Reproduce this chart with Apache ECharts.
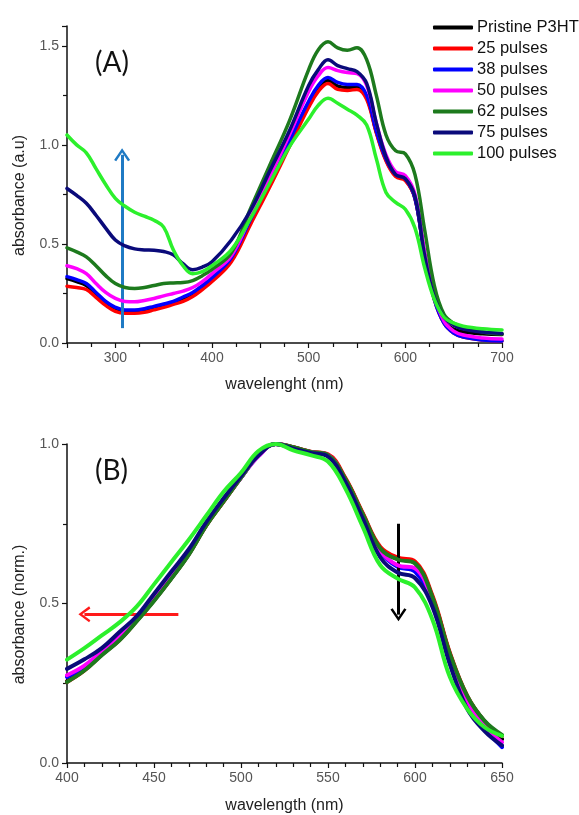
<!DOCTYPE html>
<html>
<head>
<meta charset="utf-8">
<script src="https://cdn.jsdelivr.net/npm/echarts@6/dist/echarts.min.js"></script>
<style>html,body{margin:0;padding:0;background:#fff}#c{width:579px;height:815px}</style>
</head>
<body>
<div id="c"></div>
<script>
// ---------- Panel A data ----------
const wlA = [250,260,270,280,290,300,310,320,330,340,350,360,370,380,390,400,420,440,460,480,500,510,520,530,540,550,560,570,580,590,600,610,620,630,640,650,660,680,700];
const aPristine = [0.325,0.31,0.29,0.245,0.2,0.17,0.158,0.158,0.165,0.176,0.189,0.203,0.222,0.245,0.28,0.32,0.42,0.612,0.805,1.005,1.205,1.285,1.325,1.297,1.29,1.292,1.24,1.065,0.925,0.845,0.825,0.73,0.44,0.225,0.11,0.07,0.055,0.047,0.043];
const a25 = [0.287,0.28,0.27,0.23,0.19,0.16,0.15,0.15,0.155,0.167,0.18,0.195,0.21,0.235,0.27,0.31,0.41,0.60,0.79,0.99,1.19,1.27,1.31,1.28,1.275,1.28,1.23,1.06,0.92,0.84,0.82,0.73,0.44,0.22,0.10,0.05,0.03,0.015,0.01];
const a38 = [0.335,0.32,0.30,0.255,0.21,0.18,0.167,0.167,0.173,0.185,0.197,0.21,0.232,0.255,0.29,0.33,0.43,0.625,0.82,1.02,1.22,1.30,1.34,1.315,1.305,1.305,1.25,1.07,0.93,0.85,0.83,0.73,0.44,0.22,0.10,0.05,0.03,0.015,0.01];
const a50 = [0.39,0.375,0.35,0.30,0.255,0.225,0.21,0.208,0.215,0.225,0.238,0.25,0.262,0.28,0.31,0.35,0.44,0.64,0.84,1.05,1.27,1.35,1.39,1.375,1.365,1.36,1.30,1.11,0.95,0.865,0.845,0.75,0.46,0.24,0.11,0.06,0.04,0.025,0.02];
const a62 = [0.48,0.46,0.435,0.39,0.34,0.30,0.28,0.275,0.28,0.29,0.30,0.303,0.305,0.315,0.34,0.372,0.455,0.68,0.90,1.12,1.38,1.48,1.52,1.49,1.478,1.49,1.43,1.25,1.05,0.97,0.955,0.85,0.57,0.29,0.145,0.10,0.08,0.056,0.045];
const a75 = [0.78,0.745,0.705,0.645,0.58,0.52,0.49,0.475,0.47,0.468,0.462,0.445,0.40,0.37,0.383,0.41,0.52,0.67,0.87,1.07,1.30,1.38,1.43,1.40,1.385,1.37,1.31,1.11,0.94,0.85,0.83,0.74,0.44,0.23,0.13,0.09,0.07,0.055,0.048];
const a100 = [1.05,1.00,0.96,0.88,0.80,0.73,0.69,0.66,0.64,0.62,0.585,0.47,0.39,0.35,0.36,0.39,0.47,0.63,0.81,0.99,1.13,1.20,1.235,1.21,1.18,1.15,1.10,0.93,0.76,0.71,0.675,0.58,0.38,0.22,0.13,0.10,0.085,0.072,0.066];

// ---------- Panel B data (normalized) ----------
const wlB = [400,410,420,430,440,450,460,470,480,490,500,510,520,530,540,550,560,570,580,590,600,610,620,630,640,650];
const bPristine = [0.256,0.292,0.34,0.386,0.446,0.51,0.58,0.655,0.745,0.82,0.895,0.965,1.0,0.99,0.975,0.965,0.89,0.78,0.674,0.64,0.627,0.52,0.342,0.208,0.13,0.075];
const b25 = [0.254,0.29,0.34,0.385,0.445,0.51,0.58,0.655,0.745,0.82,0.895,0.965,1.0,0.99,0.976,0.968,0.893,0.783,0.678,0.644,0.632,0.525,0.346,0.21,0.13,0.085];
const b38 = [0.27,0.302,0.348,0.393,0.45,0.515,0.585,0.66,0.75,0.825,0.895,0.962,1.0,0.988,0.974,0.964,0.884,0.772,0.662,0.615,0.60,0.505,0.325,0.185,0.11,0.05];
const b50 = [0.275,0.305,0.35,0.395,0.45,0.515,0.585,0.66,0.75,0.825,0.895,0.962,1.0,0.988,0.974,0.965,0.885,0.775,0.665,0.62,0.61,0.51,0.33,0.19,0.115,0.065];
const b62 = [0.254,0.29,0.338,0.384,0.444,0.508,0.578,0.653,0.744,0.82,0.895,0.965,1.0,0.99,0.975,0.965,0.89,0.78,0.673,0.638,0.626,0.52,0.343,0.21,0.132,0.088];
const b75 = [0.295,0.325,0.36,0.41,0.46,0.53,0.60,0.67,0.755,0.83,0.90,0.965,1.0,0.985,0.972,0.96,0.88,0.765,0.645,0.597,0.58,0.49,0.31,0.17,0.10,0.055];
const b100 = [0.324,0.36,0.40,0.44,0.49,0.56,0.63,0.70,0.775,0.85,0.91,0.978,1.0,0.98,0.965,0.945,0.86,0.74,0.62,0.578,0.55,0.45,0.27,0.17,0.112,0.085];

const names = ['Pristine P3HT','25 pulses','38 pulses','50 pulses','62 pulses','75 pulses','100 pulses'];
const colors = ['#000000','#ff0000','#0000ff','#ff00ff','#1d7a1d','#0a0a7a','#2cf02c'];
const seriesA = [aPristine,a25,a38,a50,a62,a75,a100];
const seriesB = [bPristine,b25,b38,b50,b62,b75,b100];

// annotation arrows (data coordinates)
const arrowA = [[307,0.075],[307,0.95]];
const arrowBred = [[464,0.466],[410,0.466]];
const arrowBblack = [[590.5,0.75],[590.5,0.465]];

const FONT = 'Liberation Sans, Arial, sans-serif';
const chevron = 'path://M0,10 L6,0 L12,10 L10.4,11.2 L6,3.6 L1.6,11.2 Z';

function axisCommon() {
  return {
    axisLine: {show: true, onZero: false, lineStyle: {color: '#111', width: 1.5}},
    axisTick: {show: true, inside: false, length: 5, lineStyle: {color: '#111', width: 1.2}},
    minorTick: {show: true, splitNumber: 2, length: 4, lineStyle: {color: '#111', width: 1.2}},
    splitLine: {show: false},
    axisLabel: {color: '#555', fontSize: 14, fontFamily: FONT, margin: 8},
    nameTextStyle: {color: '#222', fontSize: 16, fontFamily: FONT}
  };
}

const xA = Object.assign(axisCommon(), {
  type: 'value', gridIndex: 0, min: 250, max: 700, interval: 50,
  name: 'wavelenght (nm)', nameLocation: 'middle', nameGap: 34
});
xA.axisLabel = Object.assign({}, xA.axisLabel, {formatter: v => (v % 100 === 0 ? String(v) : '')});

const yA = Object.assign(axisCommon(), {
  type: 'value', gridIndex: 0, min: 0, max: 1.6, interval: 0.5,
  name: 'absorbance (a.u)', nameLocation: 'middle', nameGap: 39
});
yA.axisLabel = Object.assign({}, yA.axisLabel, {showMaxLabel: false, formatter: v => (Math.abs(v*2 - Math.round(v*2)) < 1e-6 ? v.toFixed(1) : '')});
yA.nameTextStyle = Object.assign({}, yA.nameTextStyle, {padding: [0, 22, 0, 0]});

const xB = Object.assign(axisCommon(), {
  type: 'value', gridIndex: 1, min: 400, max: 650, interval: 50,
  name: 'wavelength (nm)', nameLocation: 'middle', nameGap: 35
});
xB.minorTick = Object.assign({}, xB.minorTick, {splitNumber: 5});

const yB = Object.assign(axisCommon(), {
  type: 'value', gridIndex: 1, min: 0, max: 1.0, interval: 0.5,
  name: 'absorbance (norm.)', nameLocation: 'middle', nameGap: 39
});
yB.axisLabel = Object.assign({}, yB.axisLabel, {formatter: v => v.toFixed(1)});
yB.nameTextStyle = Object.assign({}, yB.nameTextStyle, {padding: [0, 22, 0, 0]});

const series = [];
seriesA.forEach((vals, i) => {
  series.push({
    name: names[i], type: 'line', xAxisIndex: 0, yAxisIndex: 0,
    data: wlA.map((w, k) => [w, vals[k]]),
    smooth: 0.4, showSymbol: false, symbol: 'none',
    lineStyle: {color: colors[i], width: 3.5, cap: 'round', join: 'round'},
    itemStyle: {color: colors[i]}, z: 2 + i
  });
});
seriesB.forEach((vals, i) => {
  series.push({
    name: names[i], type: 'line', xAxisIndex: 1, yAxisIndex: 1,
    data: wlB.map((w, k) => [w, vals[k]]),
    smooth: 0.4, showSymbol: false, symbol: 'none',
    lineStyle: {color: colors[i], width: 4, cap: 'round', join: 'round'},
    itemStyle: {color: colors[i]}, z: 2 + i
  });
});

function arrowSeries(xi, yi, pts, color, width, size) {
  return {
    type: 'line', xAxisIndex: xi, yAxisIndex: yi, data: [], silent: true, z: 20,
    markLine: {
      silent: true, animation: false,
      symbol: ['none', chevron], symbolSize: size,
      label: {show: false},
      lineStyle: {color: color, width: width, type: 'solid'},
      emphasis: {disabled: true},
      data: [[{coord: pts[0]}, {coord: pts[1]}]]
    }
  };
}
series.push(arrowSeries(0, 0, arrowA, '#1f7ac4', 3, [16, 13]));
series.push(arrowSeries(1, 1, arrowBred, '#ff1a1a', 3, [16, 12]));
series.push(arrowSeries(1, 1, arrowBblack, '#000000', 3, [16, 13]));

const option = {
  animation: false,
  backgroundColor: '#ffffff',
  title: [
    {text: '(A)', left: 90, top: 44, textStyle: {fontFamily: 'Lato, Open Sans, sans-serif', fontWeight: 'normal', fontSize: 28, color: '#111'}},
    {text: '(B)', left: 90, top: 452, textStyle: {fontFamily: 'Lato, Open Sans, sans-serif', fontWeight: 'normal', fontSize: 28, color: '#111'}}
  ],
  legend: {
    data: names, orient: 'vertical', left: 428, top: 14,
    icon: 'roundRect', itemWidth: 40, itemHeight: 4, itemGap: 4,
    textStyle: {fontSize: 16.5, lineHeight: 17, color: '#111', fontFamily: FONT, padding: [0,0,0,-1]},
    selectedMode: false
  },
  grid: [
    {left: 67, right: 77, top: 26, bottom: 472, containLabel: false},
    {left: 67, right: 77, top: 444, bottom: 52, containLabel: false}
  ],
  xAxis: [xA, xB],
  yAxis: [yA, yB],
  series: series
};

const chart = echarts.init(document.getElementById('c'), null, {renderer: 'canvas'});
chart.setOption(option);
</script>
</body>
</html>
